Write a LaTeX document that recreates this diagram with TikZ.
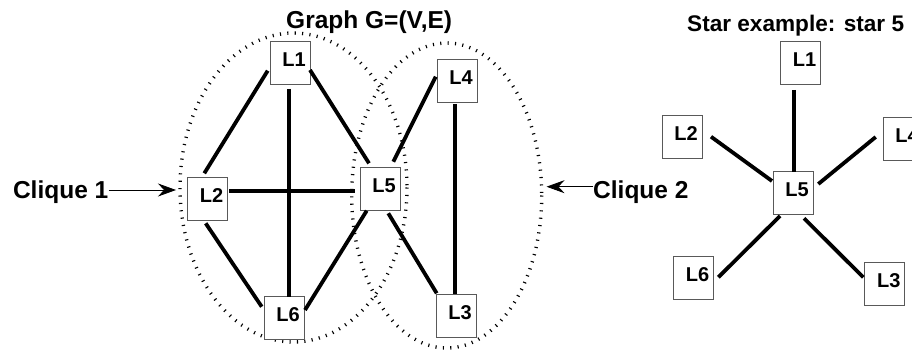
\documentclass[tikz,border=0pt]{standalone}
\usepackage{fontspec}
\setmainfont{Liberation Sans}
\usetikzlibrary{arrows.meta}
\newcommand\boxlab[1]{\hspace*{8pt}#1}
\begin{document}
\begin{tikzpicture}[x=1pt,y=-1pt,
  lbox/.style={draw=black!65,line width=0.9pt,fill=white,minimum width=40pt,minimum height=43pt,inner sep=0pt,font=\fontsize{20}{20}\selectfont\bfseries,text depth=6pt},
  edge/.style={line width=3.8pt},
  clique/.style={line width=3.4pt,dash pattern=on 1.1pt off 6.3pt},
  ttl/.style={inner sep=0pt},
  ptr/.style={line width=0.8pt,-{Stealth[length=18pt,width=13pt,inset=6pt]}}]
\useasboundingbox (0,0) rectangle (912,350);
% cliques
\draw[clique] (293.5,187.5) ellipse [x radius=113.5, y radius=154.5];
\draw[clique] (446.7,195.5) ellipse [x radius=95, y radius=152.5];
% left graph nodes
\node[lbox] (L1) at (290,63) {\boxlab{L1}};
\node[lbox] (L2) at (207.5,198.5) {\boxlab{L2}};
\node[lbox] (L5) at (380,188.5) {\boxlab{L5}};
\node[lbox] (L6) at (284,318) {\boxlab{L6}};
\node[lbox] (L4) at (457,80.5) {\boxlab{L4}};
\node[lbox] (L3) at (456,315.5) {\boxlab{L3}};
% left graph edges
\draw[edge] ([shift={(-22.3,7.7)}]L1.center) -- ([shift={(-3.2,-25.2)}]L2.center);
\draw[edge] ([shift={(-1.3,26)}]L1.center) -- ([shift={(4.7,-21.3)}]L6.center);
\draw[edge] ([shift={(20,7)}]L1.center) -- ([shift={(-11,-25.2)}]L5.center);
\draw[edge] ([shift={(-21.3,-3.8)}]L4.center) -- ([shift={(13.3,-26.8)}]L5.center);
\draw[edge] ([shift={(-2,23.5)}]L4.center) -- ([shift={(-1,-21.5)}]L3.center);
\draw[edge] ([shift={(21.8,-7.5)}]L2.center) -- ([shift={(-25,2.5)}]L5.center);
\draw[edge] ([shift={(-1.8,24.8)}]L2.center) -- ([shift={(-22.3,-11.3)}]L6.center);
\draw[edge] ([shift={(21,-8)}]L6.center) -- ([shift={(-13.3,22.2)}]L5.center);
\draw[edge] ([shift={(8.3,24.8)}]L5.center) -- ([shift={(-19.3,-22.2)}]L3.center);
% titles and clique labels
\node[ttl,anchor=base west,font=\fontsize{24.5}{24.5}\selectfont\bfseries] (gt) at (286,28.3) {Graph G=(V,E)};
\node[ttl,anchor=base west,font=\fontsize{22.6}{22.6}\selectfont\bfseries] (st) at (687,31.7) {Star example: star 5};
\node[ttl,anchor=base east,font=\fontsize{24.5}{24.5}\selectfont\bfseries] (c1) at (108.5,198) {Clique 1};
\node[ttl,anchor=base west,font=\fontsize{24.5}{24.5}\selectfont\bfseries] (c2) at (593,198) {Clique 2};
\coordinate (e1) at (176,190);
\coordinate (e2) at (546.5,186.7);
\draw[ptr] (c1.east |- e1) -- (e1);
\draw[ptr] (c2.west |- e2) -- (e2);
% star graph
\node[lbox] (S1) at (800.5,63) {\boxlab{L1}};
\node[lbox] (S2) at (682,136.5) {\boxlab{L2}};
\node[lbox] (S4) at (903,139) {\boxlab{L4}};
\node[lbox] (S5) at (793,192.5) {\boxlab{L5}};
\node[lbox] (S6) at (693.5,278) {\boxlab{L6}};
\node[lbox] (S3) at (884.7,284) {\boxlab{L3}};
\draw[edge] ([shift={(-6.2,27)}]S1.center) -- ([shift={(1.3,-20.8)}]S5.center);
\draw[edge] ([shift={(29,0.2)}]S2.center) -- ([shift={(-21,-11.5)}]S5.center);
\draw[edge] ([shift={(-27.3,-2)}]S4.center) -- ([shift={(25.3,-8.5)}]S5.center);
\draw[edge] ([shift={(-13,23.5)}]S5.center) -- ([shift={(24.8,-0.7)}]S6.center);
\draw[edge] ([shift={(11,25.8)}]S5.center) -- ([shift={(-21.4,-6.7)}]S3.center);
\end{tikzpicture}
\end{document}
